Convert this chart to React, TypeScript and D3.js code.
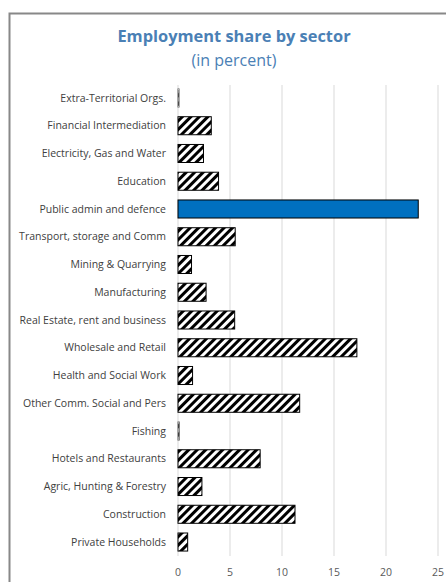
import React from "react";
import * as d3 from "d3";

const categories = [
  "Extra-Territorial Orgs.",
  "Financial Intermediation",
  "Electricity, Gas and Water",
  "Education",
  "Public admin and defence",
  "Transport, storage and Comm",
  "Mining & Quarrying",
  "Manufacturing",
  "Real Estate, rent and business",
  "Wholesale and Retail",
  "Health and Social Work",
  "Other Comm. Social and Pers",
  "Fishing",
  "Hotels and Restaurants",
  "Agric, Hunting & Forestry",
  "Construction",
  "Private Households",
];
const values = [0.1, 3.2, 2.45, 3.9, 23.1, 5.5, 1.3, 2.7, 5.45, 17.2, 1.4, 11.7, 0.12, 7.9, 2.3, 11.25, 0.93];
const highlight = "Public admin and defence";
const xTicks = [0, 5, 10, 15, 20, 25];

const FONT = "'Segoe UI', 'Open Sans', 'Noto Sans', sans-serif";

export default function App() {
  const x = d3.scaleLinear().domain([0, 25]).range([178, 438]);
  const y = d3
    .scaleBand<string>()
    .domain(categories)
    .range([84.1, 555.9])
    .paddingInner(0.35)
    .paddingOuter(0.175);
  const bh = y.bandwidth();

  return (
    <svg
      width={446}
      height={582}
      style={{ position: "absolute", left: 0, top: 0, background: "#fff" }}
      fontFamily={FONT}
    >
      <defs>
        <pattern id="hatch" patternUnits="userSpaceOnUse" width={6} height={6} patternTransform="rotate(45)">
          <rect width={6} height={6} fill="#fff" />
          <rect width={3} height={6} fill="#000" />
        </pattern>
      </defs>
      <rect x={9.5} y={13.5} width={460} height={600} fill="#fff" stroke="#888" strokeWidth={2} />
      <text x={234} y={42} textAnchor="middle" fontSize={16.4} fontWeight="bold" fill="#4a80b5">
        Employment share by sector
      </text>
      <text x={234} y={66} textAnchor="middle" fontSize={16} fill="#4a80b5">
        (in percent)
      </text>
      {xTicks.map((t) => (
        <g key={t}>
          <line x1={x(t)} x2={x(t)} y1={85} y2={556} stroke="#d9d9d9" strokeWidth={1} />
          <text x={x(t)} y={576} textAnchor="middle" fontSize={10.5} fill="#595959">
            {t}
          </text>
        </g>
      ))}
      {categories.map((c, i) => {
        const yy = y(c)!;
        return (
          <g key={c}>
            <text x={166} y={yy + bh / 2} dy="0.35em" textAnchor="end" fontSize={10.5} fill="#404040">
              {c}
            </text>
            <rect
              x={x(0)}
              y={yy}
              width={Math.max(x(values[i]) - x(0), 0.5)}
              height={bh}
              fill={c === highlight ? "#0070c0" : "url(#hatch)"}
              stroke={values[i] < 0.5 ? "#666" : "#000"}
              strokeWidth={1}
            />
          </g>
        );
      })}
    </svg>
  );
}
